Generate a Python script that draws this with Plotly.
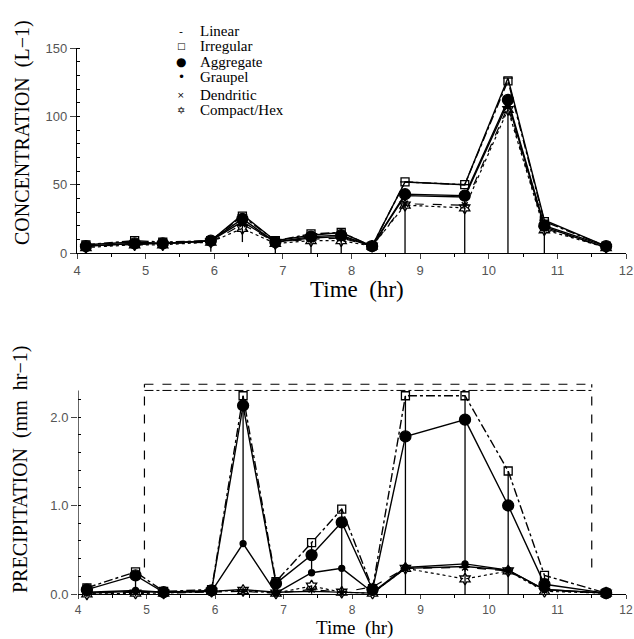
import numpy as np
import plotly.graph_objects as go

W, H = 634, 639

# ---------------- data ----------------
times = [4.13, 4.84, 5.25, 5.95, 6.41, 6.89, 7.41, 7.85, 8.30, 8.78, 9.65, 10.28, 10.81, 11.71]
series_names = ["Linear", "Irregular", "Aggregate", "Graupel", "Dendritic", "Compact/Hex"]

conc_linear    = [6, 8, 7, 9, 28, 9, 13, 15, 5, 52, 50, 128, 24, 5]
conc_irregular = [6, 9, 8, 9, 27, 9, 14, 15, 5, 52, 50, 126, 23, 5]
conc_aggregate = [5, 7, 7, 9, 25, 8, 12, 13, 5, 43, 42, 112, 20, 5]
conc_graupel   = [5, 7, 7, 9, 23, 8, 11, 12, 5, 42, 41, 110, 19, 4]
conc_dendritic = [5, 6, 7, 8, 21, 8, 10, 11, 5, 36, 35, 107, 18, 4]
conc_compact   = [4, 6, 6, 8, 18, 7, 9, 9, 5, 35, 33, 105, 17, 4]
conc_err_low   = [0, 0, 0, 7, 10, 7, 9, 9, 0, 35, 33, 105, 17, 0]

prec_linear    = [0.01, 0.03, 0.02, 0.03, 0.05, 0.02, 0.03, 0.02, 0.01, 0.29, 0.31, 0.27, 0.05, 0.01]
prec_irregular = [0.07, 0.25, 0.03, 0.05, 2.24, 0.14, 0.58, 0.96, 0.06, 2.24, 2.24, 1.39, 0.21, 0.01]
prec_aggregate = [0.05, 0.21, 0.02, 0.04, 2.13, 0.12, 0.44, 0.81, 0.05, 1.78, 1.97, 1.00, 0.11, 0.01]
prec_graupel   = [0.02, 0.04, 0.02, 0.03, 0.57, 0.01, 0.24, 0.29, 0.02, 0.30, 0.34, 0.27, 0.05, 0.01]
prec_dendritic = [0.01, 0.02, 0.01, 0.02, 0.03, 0.01, 0.05, 0.02, 0.08, 0.29, 0.30, 0.26, 0.04, 0.01]
prec_compact   = [0.00, 0.01, 0.01, 0.03, 0.04, 0.01, 0.09, 0.02, 0.01, 0.29, 0.17, 0.26, 0.03, 0.01]
prec_err_low   = [0, 0.20, 0, 0, 1.68, 0, 0.30, 0.96, 0, 2.24, 2.24, 1.39, 0.18, 0]

x_ticks = [4, 5, 6, 7, 8, 9, 10, 11, 12]
conc_ticks = [0, 50, 100, 150]
prec_ticks = [0.0, 1.0, 2.0]

seeded_start, seeded_end = 4.97, 11.50
seeded_top1, seeded_top2, seeded_low = 2.37, 2.30, 0.30
prec_axis_top = 2.30

legend_glyphs = ["-", "\u25A1", "\u25CF", "\u2022", "\u00D7", "\u2721"]
legend_glyph_sizes = [11, 9, 12, 12, 9, 10]

# ---------------- styles ----------------
styles = {
    "Linear":      dict(symbol="line-ew-open", size=7, dash="solid", lw=1.4),
    "Irregular":   dict(symbol="square-open", size=8, dash="dashdot", lw=1.4),
    "Aggregate":   dict(symbol="circle", size=11, dash="solid", lw=1.4),
    "Graupel":     dict(symbol="circle", size=6, dash="solid", lw=1.4),
    "Dendritic":   dict(symbol="asterisk-open", size=7, dash="dash", lw=1.2),
    "Compact/Hex": dict(symbol="hexagram-open", size=9, dash="dot", lw=1.2),
}

conc_data = [conc_linear, conc_irregular, conc_aggregate, conc_graupel, conc_dendritic, conc_compact]
prec_data = [prec_linear, prec_irregular, prec_aggregate, prec_graupel, prec_dendritic, prec_compact]


def px(x):
    return x / W


def py(y):
    return 1 - y / H


fig = go.Figure()

for name, vals in zip(series_names, conc_data):
    st = styles[name]
    err = None
    if name == "Compact/Hex":
        err = dict(type="data", symmetric=False, array=[0] * len(vals), arrayminus=conc_err_low,
                   width=0, thickness=1.3, color="black")
    fig.add_trace(go.Scatter(
        x=times, y=vals, mode="lines+markers", name=name, showlegend=False,
        line=dict(color="black", width=st["lw"], dash=st["dash"]),
        marker=dict(symbol=st["symbol"], size=st["size"], color="black",
                    line=dict(color="black", width=1.3)),
        error_y=err, cliponaxis=False, xaxis="x", yaxis="y"))

for name, vals in zip(series_names, prec_data):
    st = styles[name]
    err = None
    if name == "Irregular":
        err = dict(type="data", symmetric=False, array=[0] * len(vals), arrayminus=prec_err_low,
                   width=0, thickness=1.3, color="black")
    fig.add_trace(go.Scatter(
        x=times, y=vals, mode="lines+markers", name=name, showlegend=False,
        line=dict(color="black", width=st["lw"], dash=st["dash"]),
        marker=dict(symbol=st["symbol"], size=st["size"], color="black",
                    line=dict(color="black", width=1.3)),
        error_y=err, cliponaxis=False, xaxis="x2", yaxis="y2"))

tickfont = dict(family="Liberation Sans", size=13, color="#555")
xcommon = dict(range=[4, 12], tickvals=x_ticks, ticks="outside", tickwidth=1,
               showline=True, linecolor="black", linewidth=1.2, showgrid=False, zeroline=False,
               minor=dict(dtick=0.5, ticks="outside", ticklen=3, tickcolor="black"),
               automargin=False)

BOT0 = 594  # pixel row of 0.0 in the lower panel
fig.update_layout(
    width=W, height=H, margin=dict(l=0, r=0, t=0, b=0),
    paper_bgcolor="white", plot_bgcolor="white", showlegend=False,
    xaxis=dict(domain=[px(77), px(626)], anchor="y", ticklen=5, tickfont=tickfont, **xcommon),
    yaxis=dict(domain=[py(253), py(48)], anchor="x", range=[0, 150], tickvals=conc_ticks,
               ticks="outside", ticklen=6, showline=True, linecolor="black", linewidth=1.2,
               showgrid=False, zeroline=False, tickfont=tickfont, automargin=False,
               minor=dict(dtick=10, ticks="inside", ticklen=3, tickcolor="black")),
    xaxis2=dict(domain=[px(78), px(626)], anchor="y2", ticklen=4,
                tickfont=dict(family="Liberation Sans", size=12, color="#555"), **xcommon),
    yaxis2=dict(domain=[py(BOT0), py(BOT0 - 2.5 * 88.5)], anchor="x2", range=[0, 2.5],
                tickvals=prec_ticks, tickformat=".1f", ticks="outside", ticklen=6,
                showline=False, showgrid=False, zeroline=False, tickfont=tickfont,
                automargin=False,
                minor=dict(tickvals=list(np.round(np.arange(0.2, 2.21, 0.2), 2)), ticks="inside",
                           ticklen=3, tickcolor="black")),
)

# y axis line of the lower panel (stops below the seeded-period bracket)
fig.add_shape(type="line", xref="x2", yref="y2", x0=4, x1=4, y0=0, y1=prec_axis_top,
              line=dict(color="black", width=1.2))

# seeded period bracket
for xv in (seeded_start, seeded_end):
    fig.add_shape(type="line", xref="x2", yref="y2", x0=xv, x1=xv, y0=seeded_low, y1=seeded_top1,
                  line=dict(color="black", width=1.2, dash="dash"))
fig.add_shape(type="line", xref="x2", yref="y2", x0=seeded_start, x1=seeded_end,
              y0=seeded_top1, y1=seeded_top1, line=dict(color="black", width=1.2, dash="dash"))
fig.add_shape(type="line", xref="x2", yref="y2", x0=seeded_start, x1=seeded_end,
              y0=seeded_top2, y1=seeded_top2, line=dict(color="black", width=1.0, dash="dashdot"))
fig.add_annotation(x=(seeded_start + seeded_end) / 2 - 0.15, y=2.52, xref="x2", yref="y2",
                   text="Seeded Period", showarrow=False, xanchor="center", yanchor="middle",
                   font=dict(family="Liberation Serif", size=17, color="black"))

serif = "Liberation Serif"


def label(xp, yp, text, size, angle=0, family=serif, xanchor="center"):
    fig.add_annotation(x=px(xp), y=py(yp), xref="paper", yref="paper", text=text,
                       textangle=angle, showarrow=False, xanchor=xanchor, yanchor="middle",
                       font=dict(family=family, size=size, color="black"))


# axis titles
label(22, 133, "CONCENTRATION  (L\u22121)", 20, angle=-90)
label(20, 470, "PRECIPITATION  (mm  hr\u22121)", 20, angle=-90)
label(357, 289, "Time  (hr)", 23)
label(354, 628, "Time  (hr)", 19)

# legend (drawn as text)
legend_rows = [31, 46, 62, 77, 95, 110]
for name, glyph, gs, yrow in zip(series_names, legend_glyphs, legend_glyph_sizes, legend_rows):
    label(181, yrow, glyph, gs, family="DejaVu Sans")
    label(198, yrow, name, 15, xanchor="left")

fig.write_html("out.html")
